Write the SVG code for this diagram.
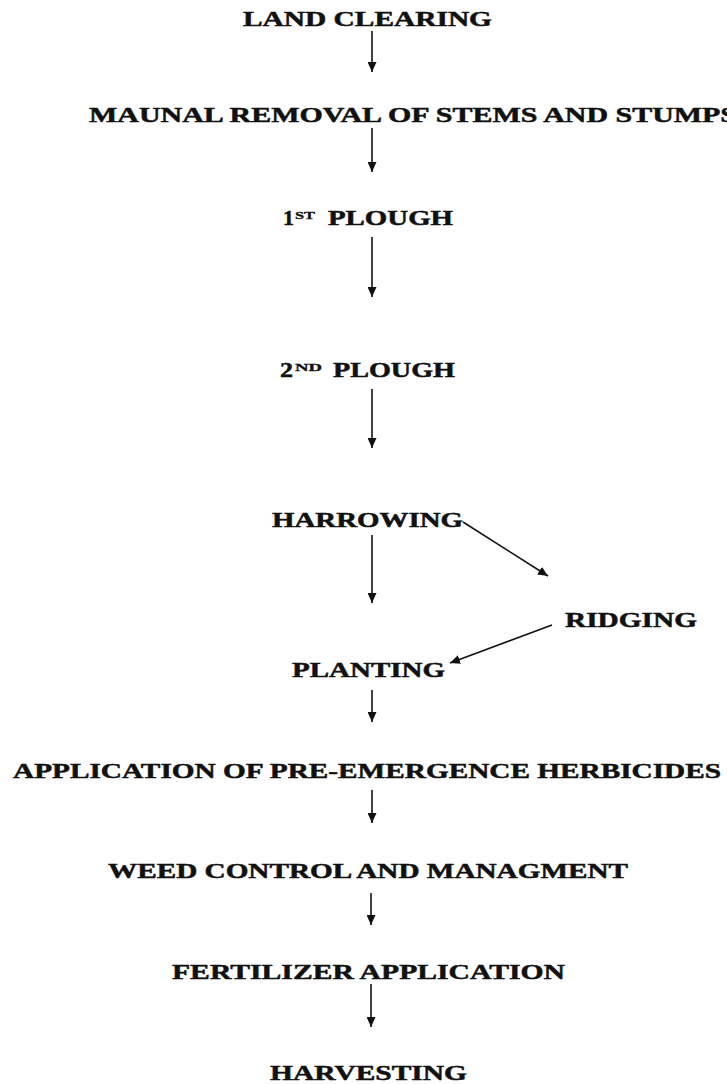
<svg xmlns="http://www.w3.org/2000/svg" width="727" height="1084" viewBox="0 0 727 1084">
<defs>
<style>
text{font-family:"Liberation Serif","Times New Roman",serif;font-weight:bold;font-size:21.5px;fill:#111;stroke:#111;stroke-width:0.5;}
text.sup{font-size:11px;stroke-width:0.3;}
line{stroke:#111;stroke-width:1.6;}
</style>
<marker id="ah" viewBox="0 0 10 9" refX="10" refY="4.5" markerWidth="10" markerHeight="9" markerUnits="userSpaceOnUse" orient="auto">
<path d="M0,0 L10,4.5 L0,9 z" fill="#111"/>
</marker>
</defs>
<rect width="727" height="1084" fill="#fff"/>
<g id="connectors">
<line x1="372" y1="31" x2="372" y2="72" marker-end="url(#ah)"/>
<line x1="372" y1="128" x2="372" y2="172" marker-end="url(#ah)"/>
<line x1="372" y1="237" x2="372" y2="297" marker-end="url(#ah)"/>
<line x1="372" y1="389" x2="372" y2="448" marker-end="url(#ah)"/>
<line x1="372" y1="535" x2="372" y2="603" marker-end="url(#ah)"/>
<line x1="463" y1="522" x2="548" y2="576" marker-end="url(#ah)"/>
<line x1="552" y1="625" x2="450" y2="663" marker-end="url(#ah)"/>
<line x1="372" y1="690" x2="372" y2="722" marker-end="url(#ah)"/>
<line x1="372" y1="790" x2="372" y2="823" marker-end="url(#ah)"/>
<line x1="371" y1="893" x2="371" y2="925" marker-end="url(#ah)"/>
<line x1="371" y1="984" x2="371" y2="1027" marker-end="url(#ah)"/>
</g>
<g id="land-clearing"><text x="243" y="26" textLength="249" lengthAdjust="spacingAndGlyphs">LAND CLEARING</text></g>
<g id="manual-removal"><text x="89" y="122" textLength="648" lengthAdjust="spacingAndGlyphs">MAUNAL REMOVAL OF STEMS AND STUMPS</text></g>
<g id="first-plough">
<text x="283" y="225" textLength="11" lengthAdjust="spacingAndGlyphs">1</text>
<text class="sup" x="295" y="219" textLength="20" lengthAdjust="spacingAndGlyphs">ST</text>
<text x="328" y="225" textLength="125" lengthAdjust="spacingAndGlyphs">PLOUGH</text>
</g>
<g id="second-plough">
<text x="280" y="377" textLength="13" lengthAdjust="spacingAndGlyphs">2</text>
<text class="sup" x="295" y="371" textLength="27" lengthAdjust="spacingAndGlyphs">ND</text>
<text x="333" y="377" textLength="122" lengthAdjust="spacingAndGlyphs">PLOUGH</text>
</g>
<g id="harrowing"><text x="272" y="527" textLength="191" lengthAdjust="spacingAndGlyphs">HARROWING</text></g>
<g id="ridging"><text x="565" y="627" textLength="132" lengthAdjust="spacingAndGlyphs">RIDGING</text></g>
<g id="planting"><text x="292" y="677" textLength="153" lengthAdjust="spacingAndGlyphs">PLANTING</text></g>
<g id="pre-emergence"><text x="13" y="778" textLength="708" lengthAdjust="spacingAndGlyphs">APPLICATION OF PRE-EMERGENCE HERBICIDES</text></g>
<g id="weed-control"><text x="108" y="878" textLength="520" lengthAdjust="spacingAndGlyphs">WEED CONTROL AND MANAGMENT</text></g>
<g id="fertilizer"><text x="172" y="979" textLength="393" lengthAdjust="spacingAndGlyphs">FERTILIZER APPLICATION</text></g>
<g id="harvesting"><text x="270" y="1080" textLength="197" lengthAdjust="spacingAndGlyphs">HARVESTING</text></g>
</svg>
